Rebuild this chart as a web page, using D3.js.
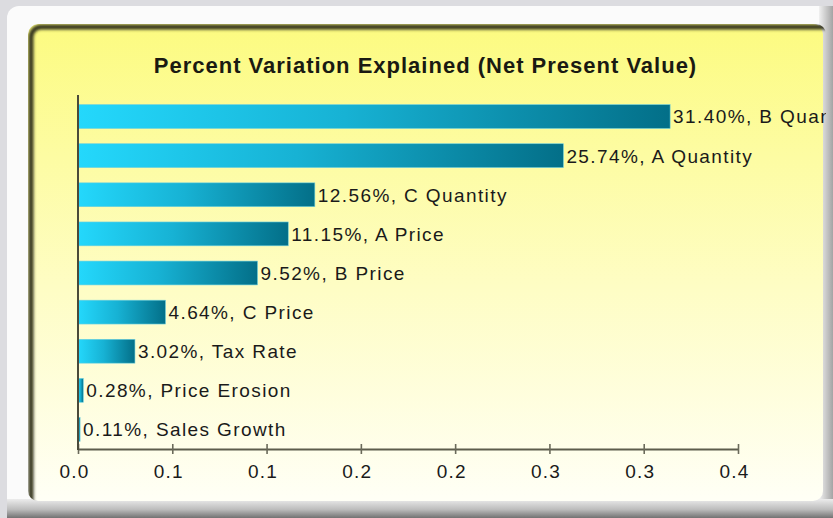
<!DOCTYPE html>
<html>
<head>
<meta charset="utf-8">
<script src="https://cdn.jsdelivr.net/npm/d3@7"></script>
<style>
  html, body { margin: 0; padding: 0; background: #dcdce0; }
  svg { display: block; }
</style>
</head>
<body>
<svg id="chart" width="833" height="518"></svg>
<script>
// Factors and their share of the variation in net present value
const factors = ["B Quantity", "A Quantity", "C Quantity", "A Price", "B Price",
                 "C Price", "Tax Rate", "Price Erosion", "Sales Growth"];
const shares = [0.3140, 0.2574, 0.1256, 0.1115, 0.0952, 0.0464, 0.0302, 0.0028, 0.0011];

// Axis ticks every 0.05, labelled with one decimal as the chart prints them
const tickValues = [0, 0.05, 0.10, 0.15, 0.20, 0.25, 0.30, 0.35];
const tickLabels = ["0.0", "0.1", "0.1", "0.2", "0.2", "0.3", "0.3", "0.4"];

const title = "Percent Variation Explained (Net Present Value)";

const W = 833, H = 518;
const svg = d3.select("#chart");
const defs = svg.append("defs");

// ---------- gradients & filters ----------
const panelGrad = defs.append("linearGradient")
  .attr("id", "panelGrad").attr("x1", 0).attr("y1", 0).attr("x2", 0).attr("y2", 1);
panelGrad.append("stop").attr("offset", "0%").attr("stop-color", "#fcfb80");
panelGrad.append("stop").attr("offset", "55%").attr("stop-color", "#fefdc4");
panelGrad.append("stop").attr("offset", "100%").attr("stop-color", "#fffff6");

const barGrad = defs.append("linearGradient")
  .attr("id", "barGrad").attr("x1", 0).attr("y1", 0).attr("x2", 1).attr("y2", 0);
barGrad.append("stop").attr("offset", "0%").attr("stop-color", "#24d8fc");
barGrad.append("stop").attr("offset", "45%").attr("stop-color", "#17b2d4");
barGrad.append("stop").attr("offset", "100%").attr("stop-color", "#036f88");

const bottomShade = defs.append("linearGradient")
  .attr("id", "bottomShade").attr("x1", 0).attr("y1", 0).attr("x2", 0).attr("y2", 1);
bottomShade.append("stop").attr("offset", "0%").attr("stop-color", "#ececec");
bottomShade.append("stop").attr("offset", "55%").attr("stop-color", "#bcbcbc");
bottomShade.append("stop").attr("offset", "100%").attr("stop-color", "#727272");

const rightShade = defs.append("linearGradient")
  .attr("id", "rightShade").attr("x1", 0).attr("y1", 0).attr("x2", 1).attr("y2", 0);
rightShade.append("stop").attr("offset", "0%").attr("stop-color", "#f0f0f0");
rightShade.append("stop").attr("offset", "100%").attr("stop-color", "#a4a4a4");

const blur = defs.append("filter").attr("id", "soft")
  .attr("x", "-10%").attr("y", "-10%").attr("width", "120%").attr("height", "120%");
blur.append("feGaussianBlur").attr("stdDeviation", 1.6);

// ---------- frame ----------
const frame = { x: 7, y: 6, w: W - 7 + 14, h: H - 6 + 14, r: 12 };
const panel = { x: 28, y: 24, w: 795, h: 477, r: 10 };

defs.append("clipPath").attr("id", "frameClip")
  .append("rect").attr("x", frame.x).attr("y", frame.y)
  .attr("width", frame.w).attr("height", frame.h).attr("rx", frame.r);

const frameG = svg.append("g").attr("clip-path", "url(#frameClip)");
frameG.append("rect").attr("x", frame.x).attr("y", frame.y)
  .attr("width", frame.w).attr("height", frame.h).attr("fill", "#fbfbfb");
frameG.append("rect").attr("x", panel.x + panel.w - 4).attr("y", frame.y)
  .attr("width", W - (panel.x + panel.w - 4)).attr("height", H)
  .attr("fill", "url(#rightShade)");
frameG.append("rect").attr("x", frame.x).attr("y", panel.y + panel.h - 2)
  .attr("width", W).attr("height", H - (panel.y + panel.h - 2))
  .attr("fill", "url(#bottomShade)");

defs.append("clipPath").attr("id", "panelClip")
  .append("rect").attr("x", panel.x).attr("y", panel.y)
  .attr("width", panel.w + 3).attr("height", panel.h).attr("rx", panel.r);

const panelG = svg.append("g").attr("clip-path", "url(#panelClip)");
panelG.append("rect").attr("x", panel.x).attr("y", panel.y)
  .attr("width", panel.w).attr("height", panel.h).attr("rx", panel.r)
  .attr("fill", "url(#panelGrad)");
// sunken edge: dark shade along the top and left of the panel
panelG.append("rect")
  .attr("x", panel.x + 3).attr("y", panel.y + 3)
  .attr("width", panel.w + 40).attr("height", panel.h + 40).attr("rx", panel.r)
  .attr("fill", "none").attr("stroke", "#34341e").attr("stroke-width", 5)
  .attr("filter", "url(#soft)");

// ---------- title ----------
panelG.append("text")
  .attr("x", panel.x + panel.w / 2).attr("y", 73)
  .attr("text-anchor", "middle")
  .attr("font-family", "'Liberation Sans', Arial, sans-serif")
  .attr("font-weight", "bold").attr("font-size", 22)
  .attr("letter-spacing", 1)
  .attr("fill", "#1a1a12")
  .text(title);

// ---------- scales ----------
const x = d3.scaleLinear().domain([0, 0.35]).range([78, 738]);
const y = d3.scaleBand().domain(factors).range([97, 449])
  .paddingInner(0.39).paddingOuter(0.195);

const plot = panelG.append("g");

// bars
plot.selectAll("rect.bar").data(factors).join("rect")
  .attr("class", "bar")
  .attr("x", x(0))
  .attr("y", d => y(d))
  .attr("width", (d, i) => x(shares[i]) - x(0))
  .attr("height", y.bandwidth())
  .attr("fill", "url(#barGrad)")
  .attr("stroke", "#6fd0de").attr("stroke-width", 0.6);

// value labels
const pct = d3.format(".2%");
plot.selectAll("text.lbl").data(factors).join("text")
  .attr("class", "lbl")
  .attr("x", (d, i) => x(shares[i]) + 3)
  .attr("y", d => y(d) + y.bandwidth() / 2)
  .attr("dy", "0.36em")
  .attr("font-family", "'Liberation Sans', Arial, sans-serif")
  .attr("font-size", 19)
  .attr("letter-spacing", 1.4)
  .attr("fill", "#1a1a1a")
  .text((d, i) => `${pct(shares[i])}, ${d}`);

// value axis
const xAxis = d3.axisBottom(x)
  .tickValues(tickValues)
  .tickFormat((d, i) => tickLabels[i])
  .tickSize(0).tickPadding(16);

const axisG = plot.append("g").attr("transform", "translate(0,449)").call(xAxis);
axisG.select(".domain").attr("stroke", "#5c5c4c").attr("stroke-width", 2);
axisG.selectAll(".tick text")
  .attr("dx", -4)
  .attr("font-family", "'Liberation Sans', Arial, sans-serif")
  .attr("font-size", 19)
  .attr("letter-spacing", 1.2)
  .attr("fill", "#1a1a1a");
axisG.selectAll(".tick").append("line")
  .attr("y1", -5).attr("y2", 5)
  .attr("stroke", "#6a6a5a").attr("stroke-width", 1.6);

// category axis line
plot.append("line")
  .attr("x1", x(0)).attr("x2", x(0))
  .attr("y1", 95).attr("y2", 450)
  .attr("stroke", "#4a4a3a").attr("stroke-width", 2);
</script>
</body>
</html>
